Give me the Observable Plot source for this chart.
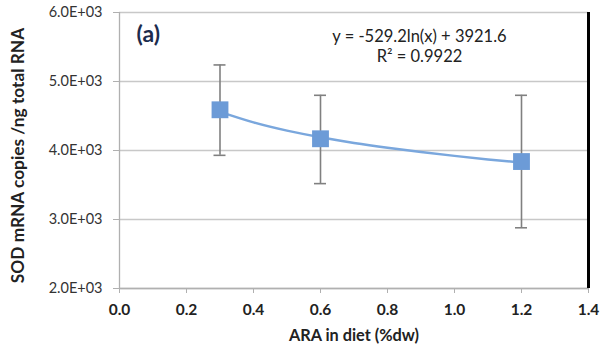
<!DOCTYPE html>
<html><head><meta charset="utf-8">
<script src="https://cdn.jsdelivr.net/npm/d3@7"></script>
<script src="https://cdn.jsdelivr.net/npm/@observablehq/plot@0.6"></script>
<style>
html,body{margin:0;padding:0;background:#fff;}
#chart{width:600px;height:359px;}
</style>
</head><body><div id="chart"></div>
<script>
// Data
const diet = [0.3, 0.6, 1.2];
const sod = [4590, 4170, 3840];
const errHigh = [5240, 4800, 4800];
const errLow = [3930, 3520, 2880];
// Logarithmic trend line as drawn (read at steps along the curve)
const trendX = [0.3, 0.4, 0.5, 0.6, 0.7, 0.8, 0.9, 1.0, 1.1, 1.2];
const trendY = [4560, 4407, 4288, 4192, 4110, 4040, 3977, 3922, 3871, 3825];
const xTicks = [0, 0.2, 0.4, 0.6, 0.8, 1.0, 1.2, 1.4];
const yTicks = [2000, 3000, 4000, 5000, 6000];
const yTickLabels = ["2.0E+03", "3.0E+03", "4.0E+03", "5.0E+03", "6.0E+03"];
const equationText = "y = -529.2ln(x) + 3921.6";
const r2Text = "R² = 0.9922";
const panelLabel = "(a)";
const xTitle = "ARA in diet (%dw)";
const yTitle = "SOD mRNA copies /ng total RNA";

const points = diet.map((d, i) => ({x: d, y: sod[i], hi: errHigh[i], lo: errLow[i]}));
const trend = trendX.map((d, i) => ({x: d, y: trendY[i]}));
const font = "Lato, 'Open Sans', sans-serif";

const chart = Plot.plot({
  width: 600,
  height: 359,
  marginLeft: 119,
  marginRight: 12,
  marginTop: 12,
  marginBottom: 71,
  style: {fontFamily: font, background: "#fff", color: "#222"},
  x: {type: "linear", domain: [0, 1.4]},
  y: {type: "linear", domain: [2000, 6000]},
  marks: [
    Plot.ruleY(yTicks, {y: d => d, stroke: "#c8c8c8", strokeWidth: 1.3}),
    Plot.ruleX([0], {stroke: "#b0b0b0", strokeWidth: 1.3}),
    Plot.ruleY([2000], {stroke: "#b0b0b0", strokeWidth: 1.3}),
    Plot.ruleX([1.4], {stroke: "#000", strokeWidth: 3}),
    Plot.axisY({ticks: yTicks, tickFormat: d => yTickLabels[yTicks.indexOf(d)], tickSize: 6, tickPadding: 11, stroke: "#b0b0b0", fontSize: 14.5, fill: "#333", label: null}),
    Plot.axisX({ticks: xTicks, tickFormat: d3.format(".1f"), tickSize: 5, tickPadding: 10, stroke: "#b0b0b0", fontSize: 15.5, fontWeight: "bold", fill: "#222", label: null}),
    Plot.text([xTitle], {frameAnchor: "bottom", dy: 52, fontSize: 16.3, fontWeight: "bold", fill: "#222"}),
    Plot.text([yTitle], {frameAnchor: "left", dx: -101, dy: 5, rotate: -90, textAnchor: "middle", fontSize: 17.3, fontWeight: "bold", fill: "#222"}),
    Plot.ruleX(points, {x: "x", y1: "lo", y2: "hi", stroke: "#808080", strokeWidth: 1.6}),
    Plot.ruleY(points, {x1: "x", x2: "x", y: "hi", insetLeft: -6, insetRight: -6, stroke: "#808080", strokeWidth: 1.6}),
    Plot.ruleY(points, {x1: "x", x2: "x", y: "lo", insetLeft: -6, insetRight: -6, stroke: "#808080", strokeWidth: 1.6}),
    Plot.line(trend, {x: "x", y: "y", stroke: "#7aa7dd", strokeWidth: 2.5, curve: "natural"}),
    Plot.dot(points, {x: "x", y: "y", symbol: "square", r: 9.5, fill: "#6c9bd7", stroke: "none"}),
    Plot.text([panelLabel], {frameAnchor: "top-left", dx: 17, dy: 22, lineAnchor: "middle", fontSize: 23, fontWeight: "bold", fill: "#1c2b4d", textAnchor: "start"}),
    Plot.text([equationText], {frameAnchor: "top-left", dx: 300, dy: 24, lineAnchor: "middle", textAnchor: "middle", fontSize: 16.5, fill: "#222"}),
    Plot.text([r2Text], {frameAnchor: "top-left", dx: 300, dy: 44, lineAnchor: "middle", textAnchor: "middle", fontSize: 16.5, fill: "#222"})
  ]
});

document.getElementById("chart").append(chart);
</script>
</body></html>
